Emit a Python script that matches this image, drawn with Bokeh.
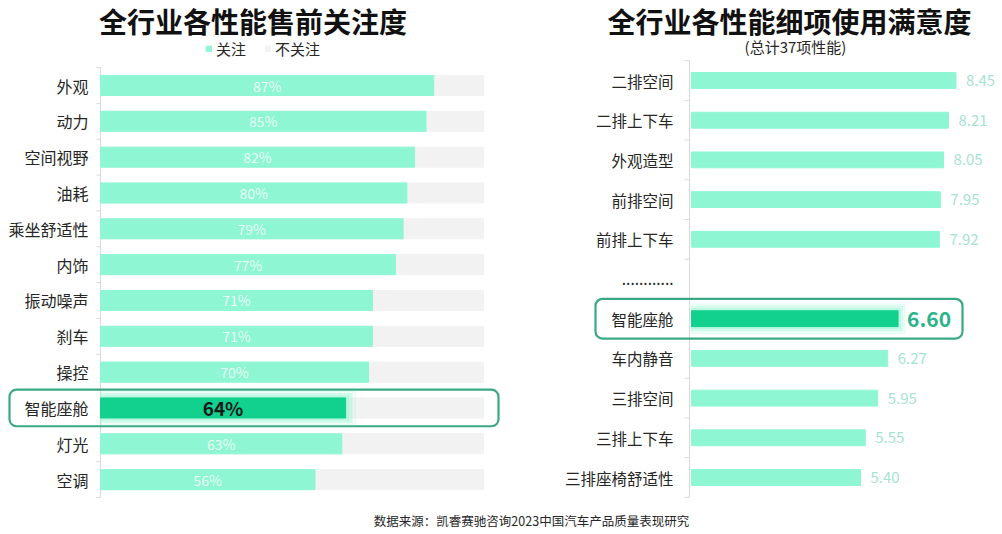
from bokeh.plotting import figure
from bokeh.models import (Range1d, ColumnDataSource, Label, BoxAnnotation,
                          Legend, LegendItem)
from bokeh.core.properties import value
from bokeh.embed import file_html
from bokeh.resources import INLINE

FONT = "Noto Sans CJK SC"

# ---------------- data ----------------
left_title = "全行业各性能售前关注度"
legend_labels = ["关注", "不关注"]
left_categories = ["外观", "动力", "空间视野", "油耗", "乘坐舒适性", "内饰",
                   "振动噪声", "刹车", "操控", "智能座舱", "灯光", "空调"]
left_values = [87, 85, 82, 80, 79, 77, 71, 71, 70, 64, 63, 56]
left_total = 100

right_title = "全行业各性能细项使用满意度"
right_subtitle = "(总计37项性能)"
right_categories = ["二排空间", "二排上下车", "外观造型", "前排空间", "前排上下车",
                    "............", "智能座舱", "车内静音", "三排空间", "三排上下车",
                    "三排座椅舒适性"]
right_values = [8.45, 8.21, 8.05, 7.95, 7.92, None, 6.60, 6.27, 5.95, 5.55, 5.40]

highlight = "智能座舱"
source_note = "数据来源：凯睿赛驰咨询2023中国汽车产品质量表现研究"

# ---------------- styles ----------------
MINT = "#8ef6d3"
DARK = "#12d18e"
GRAY = "#f2f2f2"
BOX = "#3aa983"
TXT = "#262626"
AXIS = "#d9d9d9"

# ---------------- geometry (page pixels) ----------------
W, H = 1000, 532
PX0, PY0 = 0, 1
# left panel scale: value 0 at x=100, 3.83 px per percent; row 0 at y=86, 35.83 px per row
L_X0, L_KX, L_Y0, L_KY = 100, 3.83, 86, 35.83
# right panel scale: value 0 at x=691, 31.3 px per point; row 0 at y=81, 39.7 px per row
R_X0, R_KX, R_Y0, R_KY = 691, 31.3, 81, 39.7


def lx(px):
    return (px - L_X0) / L_KX


def ly(py):
    return (py - L_Y0) / L_KY


def rx(px):
    return (px - R_X0) / R_KX


def ry(py):
    return (py - R_Y0) / R_KY


p = figure(width=W, height=H, toolbar_location=None, output_backend="svg",
           x_range=Range1d(lx(PX0), lx(PX0 + W)),
           y_range=Range1d(ly(PY0 + H), ly(PY0)),
           x_axis_location=None, y_axis_location=None, min_border=0,
           outline_line_color=None, background_fill_color="white")
p.grid.visible = False
p.extra_x_ranges = {"r": Range1d(rx(PX0), rx(PX0 + W))}
p.extra_y_ranges = {"r": Range1d(ry(PY0 + H), ry(PY0))}
R = dict(x_range_name="r", y_range_name="r")

# ================= LEFT CHART =================
nL = len(left_categories)
rowsL = list(range(nL))
hiL = left_categories.index(highlight)
hiL_val = left_values[hiL]

# axis line and boundary ticks
p.segment(x0=[0], y0=[-0.5], x1=[0], y1=[nL - 0.5], line_color=AXIS,
          line_width=1)
p.segment(x0=[-4 / L_KX] * (nL + 1), y0=[i - 0.5 for i in range(nL + 1)],
          x1=[0] * (nL + 1), y1=[i - 0.5 for i in range(nL + 1)],
          line_color=AXIS, line_width=1)

r_gray = p.hbar(y=rowsL, left=0, right=[left_total] * nL, height=0.56,
                color=GRAY)

for dx, dh, a in [(2.6, 0.36, 0.15), (1.6, 0.24, 0.22), (0.8, 0.12, 0.32)]:
    p.hbar(y=[hiL], left=0, right=[hiL_val + dx], height=0.56 + dh,
           color=MINT, alpha=a)

norm_l = [i for i in rowsL if i != hiL]
src_l = ColumnDataSource(dict(row=norm_l,
                              val=[left_values[i] for i in norm_l],
                              mid=[left_values[i] / 2 for i in norm_l],
                              lab=[f"{left_values[i]}%" for i in norm_l]))
r_mint = p.hbar(y="row", left=0, right="val", height=0.56, color=MINT,
                source=src_l)
p.hbar(y=[hiL], left=0, right=[hiL_val], height=0.56, color=DARK)

p.text(x="mid", y="row", text="lab", source=src_l, text_align="center",
       text_baseline="middle", text_color="white", text_alpha=0.8,
       text_font=value(FONT), text_font_size="14px")
p.text(x=[hiL_val / 2], y=[hiL], text=[f"{hiL_val}%"],
       text_align="center", text_baseline="middle", text_color="#1a1a1a",
       text_font=value(FONT), text_font_size="19px", text_font_style="bold")

# category labels
p.text(x=[0] * nL, y=rowsL, text=left_categories, x_offset=-12,
       text_align="right", text_baseline="middle", text_color=TXT,
       text_font=value(FONT), text_font_size="16px")

p.add_layout(BoxAnnotation(left=lx(9), right=lx(498), bottom=hiL + 0.51,
                           top=hiL - 0.51, fill_color=None, fill_alpha=0,
                           line_color=BOX, line_alpha=1, line_width=2.2,
                           border_radius=7))

p.add_layout(Label(x=lx(252.5), y=ly(21), text=left_title, text_align="center",
                   text_baseline="middle", text_font=FONT,
                   text_font_size="28px", text_font_style="bold",
                   text_color="#111111"))

legend = Legend(items=[LegendItem(label=legend_labels[0], renderers=[r_mint]),
                       LegendItem(label=legend_labels[1], renderers=[r_gray])],
                location=(205 - PX0, H - (60 - PY0)), orientation="horizontal",
                glyph_width=7, glyph_height=7, label_standoff=4, spacing=18,
                padding=0, margin=0, border_line_color=None,
                background_fill_alpha=0, label_text_font=FONT,
                label_text_font_size="15px", label_text_color=TXT)
p.add_layout(legend)

# ================= RIGHT CHART =================
nR = len(right_categories)
rowsR = list(range(nR))
hiR = right_categories.index(highlight)
hiR_val = right_values[hiR]
axR = rx(689)

p.segment(x0=[axR], y0=[-0.5], x1=[axR], y1=[nR - 0.5], line_color=AXIS,
          line_width=1, **R)
p.segment(x0=[axR - 5 / R_KX] * (nR + 1), y0=[i - 0.5 for i in range(nR + 1)],
          x1=[axR] * (nR + 1), y1=[i - 0.5 for i in range(nR + 1)],
          line_color=AXIS, line_width=1, **R)

for dx, dh, a in [(0.22, 0.34, 0.15), (0.14, 0.22, 0.22), (0.07, 0.11, 0.32)]:
    p.hbar(y=[hiR], left=0, right=[hiR_val + dx], height=0.40 + dh,
           color=MINT, alpha=a, **R)

norm_r = [i for i in rowsR if right_values[i] is not None and i != hiR]
src_r = ColumnDataSource(dict(row=norm_r,
                              val=[right_values[i] for i in norm_r],
                              lab=[f"{right_values[i]:.2f}" for i in norm_r]))
p.hbar(y="row", left=0, right="val", height=0.40, color=MINT, source=src_r, **R)
p.hbar(y=[hiR], left=0, right=[hiR_val], height=0.40, color=DARK, **R)

p.text(x="val", y="row", text="lab", source=src_r, x_offset=10,
       text_align="left", text_baseline="middle", text_color="#a6e2d3",
       text_font=value(FONT), text_font_size="15px", **R)
p.text(x=[hiR_val], y=[hiR], text=[f"{hiR_val:.2f}"], x_offset=9,
       text_align="left", text_baseline="middle", text_color="#2db48a",
       text_font=value(FONT), text_font_size="21px", text_font_style="bold",
       **R)

p.text(x=[axR] * nR, y=rowsR, text=right_categories, x_offset=-16,
       text_align="right", text_baseline="middle", text_color=TXT,
       text_font=value(FONT), text_font_size="15.5px", **R)

p.add_layout(BoxAnnotation(left=rx(595), right=rx(962), bottom=hiR + 0.5,
                           top=hiR - 0.5, fill_color=None, fill_alpha=0,
                           line_color=BOX, line_alpha=1, line_width=2.2,
                           border_radius=7, **R))

p.add_layout(Label(x=rx(789), y=ry(21), text=right_title, text_align="center",
                   text_baseline="middle", text_font=FONT,
                   text_font_size="28px", text_font_style="bold",
                   text_color="#111111", **R))
p.add_layout(Label(x=rx(795), y=ry(47), text=right_subtitle,
                   text_align="center", text_baseline="middle",
                   text_font=FONT, text_font_size="15px", text_color=TXT, **R))

# ================= FOOTER =================
p.add_layout(Label(x=lx(531), y=ly(521), text=source_note, text_align="center",
                   text_baseline="middle", text_font=FONT,
                   text_font_size="12.5px", text_color=TXT))

open("out.html", "w").write(file_html(p, INLINE))
